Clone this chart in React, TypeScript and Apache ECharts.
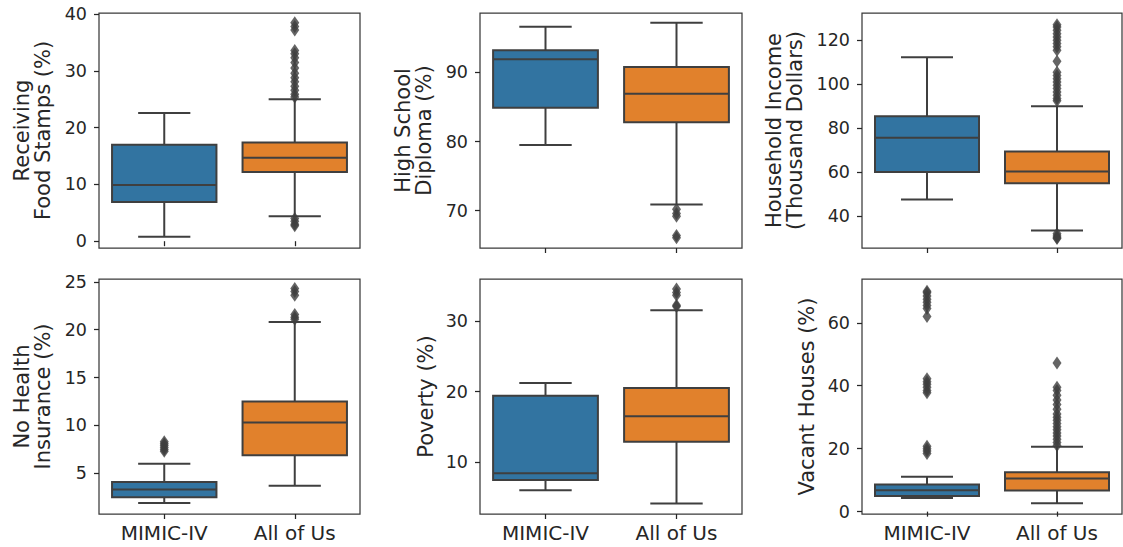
import React, { useEffect, useRef } from 'react';
import * as echarts from 'echarts';

const categories = ['MIMIC-IV', 'All of Us'];
const boxColors = ['#3274a1', '#e1812c'];
const edgeColor = '#3f3f3f';
const textColor = '#262626';
const fontFamily = '"DejaVu Sans", sans-serif';

// Box stats: [lower whisker, Q1, median, Q3, upper whisker]
const foodStampsMimic = [0.8, 6.9, 9.9, 17.0, 22.6];
const foodStampsAou = [4.4, 12.2, 14.7, 17.4, 25.0];
const foodStampsMimicOut: number[] = [];
const foodStampsAouOut = [25.4, 25.9, 26.6, 27.3, 28.1, 28.8, 29.6, 30.5, 31.5, 32.3, 33.0, 33.6, 37.2, 37.8, 38.5, 4.0, 3.5, 3.0, 2.7];
const foodStampsTicks = [0, 10, 20, 30, 40];

const diplomaMimic = [79.5, 84.9, 91.9, 93.2, 96.6];
const diplomaAou = [70.9, 82.8, 86.9, 90.8, 97.2];
const diplomaMimicOut: number[] = [];
const diplomaAouOut = [70.2, 69.6, 69.2, 66.4, 66.1];
const diplomaTicks = [70, 80, 90];

const incomeMimic = [47.6, 60.1, 75.7, 85.4, 112.3];
const incomeAou = [33.5, 55.0, 60.3, 69.4, 90.0];
const incomeMimicOut: number[] = [];
const incomeAouOut = [92.5, 93.5, 95, 96.5, 98, 99.5, 101, 102.5, 104, 105.5, 110.5, 115.5, 117, 118.5, 120, 121.5, 123, 124.5, 126, 127, 32.0, 31.0, 30.2, 29.8];
const incomeTicks = [40, 60, 80, 100, 120];

const insuranceMimic = [1.9, 2.5, 3.3, 4.1, 6.0];
const insuranceAou = [3.7, 6.9, 10.3, 12.5, 20.8];
const insuranceMimicOut = [7.3, 7.5, 7.7, 7.9, 8.1, 8.3];
const insuranceAouOut = [21.1, 21.3, 21.6, 23.6, 24.0, 24.3];
const insuranceTicks = [5, 10, 15, 20, 25];

const povertyMimic = [6.05, 7.5, 8.45, 19.4, 21.2];
const povertyAou = [4.2, 12.9, 16.5, 20.5, 31.5];
const povertyMimicOut: number[] = [];
const povertyAouOut = [32.0, 32.2, 33.6, 34.0, 34.5];
const povertyTicks = [10, 20, 30];

const vacantMimic = [4.3, 5.0, 6.8, 8.6, 11.1];
const vacantAou = [2.65, 6.7, 10.5, 12.5, 20.6];
const vacantMimicOut = [18.5, 19.3, 20.0, 20.8, 37.8, 38.5, 39.5, 40.5, 41.3, 42.2, 62.0, 64.5, 65.5, 66.5, 67.5, 68.5, 69.5, 70.0];
const vacantAouOut = [21, 22, 23, 24, 25, 26, 27, 28, 29, 30, 31, 32.5, 34, 35.5, 37, 38.5, 39.5, 47.2];
const vacantTicks = [0, 20, 40, 60];

const panels = [
  { name: 'Receiving\nFood Stamps (%)', boxes: [foodStampsMimic, foodStampsAou], outs: [foodStampsMimicOut, foodStampsAouOut], ticks: foodStampsTicks, min: -1.2, max: 40.2 },
  { name: 'High School\nDiploma (%)', boxes: [diplomaMimic, diplomaAou], outs: [diplomaMimicOut, diplomaAouOut], ticks: diplomaTicks, min: 64.6, max: 98.6 },
  { name: 'Household Income\n(Thousand Dollars)', boxes: [incomeMimic, incomeAou], outs: [incomeMimicOut, incomeAouOut], ticks: incomeTicks, min: 25.5, max: 132.4 },
  { name: 'No Health\nInsurance (%)', boxes: [insuranceMimic, insuranceAou], outs: [insuranceMimicOut, insuranceAouOut], ticks: insuranceTicks, min: 0.75, max: 25.3 },
  { name: 'Poverty (%)', boxes: [povertyMimic, povertyAou], outs: [povertyMimicOut, povertyAouOut], ticks: povertyTicks, min: 2.7, max: 35.9 },
  { name: 'Vacant Houses (%)', boxes: [vacantMimic, vacantAou], outs: [vacantMimicOut, vacantAouOut], ticks: vacantTicks, min: -0.75, max: 73.9 },
];

const layout = [
  { left: 99, top: 13, width: 261, height: 235, nameGap: 46 },
  { left: 480, top: 13, width: 262, height: 235, nameGap: 46 },
  { left: 862, top: 13, width: 260, height: 235, nameGap: 57 },
  { left: 99, top: 279, width: 261, height: 235, nameGap: 46 },
  { left: 480, top: 279, width: 262, height: 235, nameGap: 44 },
  { left: 862, top: 279, width: 260, height: 235, nameGap: 45 },
];

function renderBox(params: any, api: any) {
  const idx = api.value(0);
  const lo = api.coord([idx, api.value(1)]);
  const q1 = api.coord([idx, api.value(2)]);
  const med = api.coord([idx, api.value(3)]);
  const q3 = api.coord([idx, api.value(4)]);
  const hi = api.coord([idx, api.value(5)]);
  const band = api.size([1, 0])[0];
  const cx = lo[0];
  const hw = band * 0.4;
  const cw = band * 0.2;
  const ls = { stroke: edgeColor, lineWidth: 2 };
  return {
    type: 'group',
    children: [
      { type: 'line', shape: { x1: cx, y1: q3[1], x2: cx, y2: hi[1] }, style: ls },
      { type: 'line', shape: { x1: cx, y1: q1[1], x2: cx, y2: lo[1] }, style: ls },
      { type: 'line', shape: { x1: cx - cw, y1: hi[1], x2: cx + cw, y2: hi[1] }, style: ls },
      { type: 'line', shape: { x1: cx - cw, y1: lo[1], x2: cx + cw, y2: lo[1] }, style: ls },
      {
        type: 'rect',
        shape: { x: cx - hw, y: q3[1], width: hw * 2, height: q1[1] - q3[1] },
        style: { fill: boxColors[idx], stroke: edgeColor, lineWidth: 2 },
      },
      { type: 'line', shape: { x1: cx - hw, y1: med[1], x2: cx + hw, y2: med[1] }, style: ls },
    ],
  };
}

export default function App() {
  const ref = useRef<HTMLDivElement>(null);
  useEffect(() => {
    if (!ref.current) return;
    const chart = echarts.init(ref.current, undefined, { renderer: 'svg' });
    const option: any = {
      animation: false,
      backgroundColor: '#ffffff',
      textStyle: { fontFamily },
      grid: layout.map((l) => ({
        left: l.left, top: l.top, width: l.width, height: l.height,
        show: true, borderColor: '#3a3a3a', borderWidth: 1.25, backgroundColor: 'transparent',
      })),
      xAxis: panels.map((p, i) => ({
        type: 'category',
        gridIndex: i,
        data: categories,
        boundaryGap: true,
        axisLine: { show: false },
        axisTick: { show: true, alignWithLabel: true, length: 5, lineStyle: { color: textColor, width: 1.25 } },
        axisLabel: { show: i >= 3, fontSize: 20, color: textColor, margin: 9, fontFamily },
        splitLine: { show: false },
      })),
      yAxis: panels.map((p, i) => ({
        type: 'value',
        gridIndex: i,
        min: p.min,
        max: p.max,
        axisLine: { show: false },
        splitLine: { show: false },
        axisTick: { show: true, length: 5, customValues: p.ticks, lineStyle: { color: textColor, width: 1.25 } },
        axisLabel: { customValues: p.ticks, fontSize: 17.5, color: textColor, margin: 12, fontFamily },
        name: p.name,
        nameLocation: 'middle',
        nameRotate: 90,
        nameGap: layout[i].nameGap,
        nameTextStyle: { fontSize: 21, lineHeight: 21, color: textColor, fontFamily, align: 'center' },
      })),
      series: [
        ...panels.map((p, i) => ({
          type: 'custom',
          xAxisIndex: i,
          yAxisIndex: i,
          renderItem: renderBox,
          encode: { x: 0, y: [1, 2, 3, 4, 5] },
          data: p.boxes.map((b, k) => [k, ...b]),
          z: 2,
        })),
        ...panels.map((p, i) => ({
          type: 'scatter',
          xAxisIndex: i,
          yAxisIndex: i,
          symbol: 'diamond',
          symbolSize: [9, 13],
          itemStyle: { color: edgeColor },
          data: [
            ...p.outs[0].map((v) => [categories[0], v]),
            ...p.outs[1].map((v) => [categories[1], v]),
          ],
          z: 3,
        })),
      ],
    };
    chart.setOption(option);
    return () => chart.dispose();
  }, []);
  return <div ref={ref} style={{ position: 'absolute', left: 0, top: 0, width: 1123, height: 547 }} />;
}
